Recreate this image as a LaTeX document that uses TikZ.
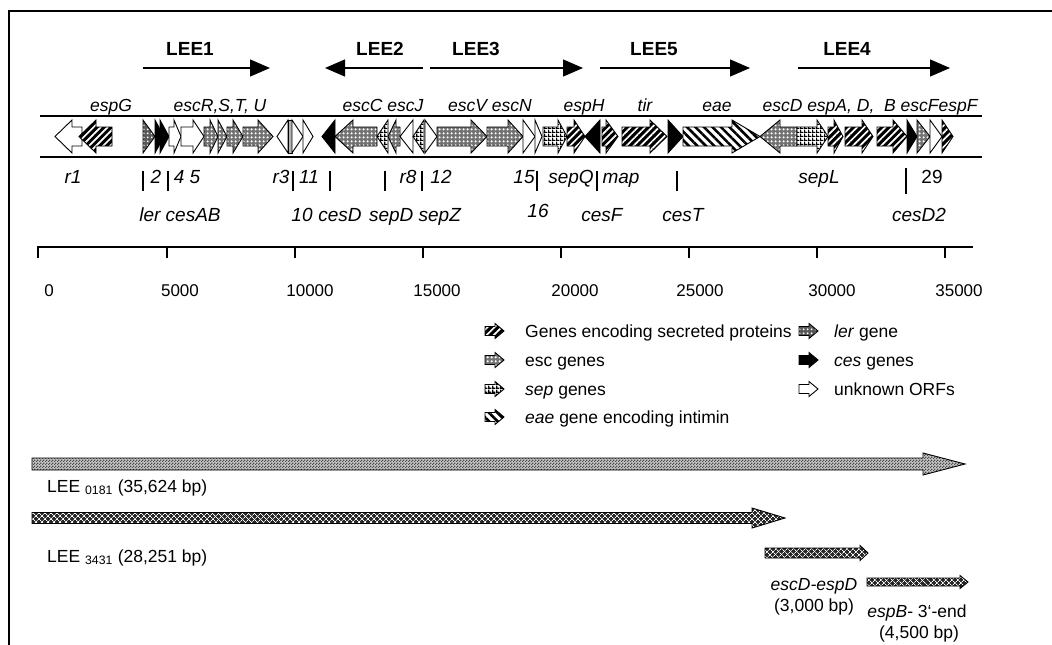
\documentclass[tikz,border=0pt]{standalone}
\usepackage{fontspec}
\setmainfont{Liberation Sans}
\usetikzlibrary{patterns,patterns.meta,arrows.meta}
\pgfdeclarepatternformonly{sepgrid}{\pgfpointorigin}{\pgfqpoint{4pt}{4pt}}{\pgfqpoint{4pt}{4pt}}{%
  \pgfpathrectangle{\pgfpointorigin}{\pgfqpoint{4pt}{1.5pt}}%
  \pgfpathrectangle{\pgfpointorigin}{\pgfqpoint{1.5pt}{4pt}}%
  \pgfusepath{fill}}
\pgfdeclarepatternformonly{checks}{\pgfpointorigin}{\pgfqpoint{3pt}{3pt}}{\pgfqpoint{3pt}{3pt}}{%
  \pgfpathrectangle{\pgfpointorigin}{\pgfqpoint{1.5pt}{1.5pt}}%
  \pgfpathrectangle{\pgfqpoint{1.5pt}{1.5pt}}{\pgfqpoint{1.5pt}{1.5pt}}%
  \pgfusepath{fill}}
% gene arrows on the track
\newcommand\gR[4]{\draw[#1] (#2,127) -- (#3,127) -- (#3,120) -- (#4,136.5) -- (#3,153) -- (#3,146) -- (#2,146) -- cycle;}
\newcommand\gL[4]{\draw[#1] (#2,136.5) -- (#3,120) -- (#3,127) -- (#4,127) -- (#4,146) -- (#3,146) -- (#3,153) -- cycle;}
\newcommand\tR[3]{\draw[#1] (#2,120) -- (#3,136.5) -- (#2,153) -- cycle;}
\newcommand\tL[3]{\draw[#1] (#3,120) -- (#2,136.5) -- (#3,153) -- cycle;}
% big arrow: style, x0, xhead, xtip, cy, half shaft, half head
\newcommand\bA[7]{\draw[#1] (#2,#5-#6) -- (#3,#5-#6) -- (#3,#5-#7) -- (#4,#5) -- (#3,#5+#7) -- (#3,#5+#6) -- (#2,#5+#6) -- cycle;}
% legend icon: style, x, cy
\newcommand\icon[3]{\draw[#1] (#2,#3-4.5) -- (#2+10,#3-4.5) -- (#2+10,#3-7.5) -- (#2+19,#3) -- (#2+10,#3+7.5) -- (#2+10,#3+4.5) -- (#2,#3+4.5) -- cycle;}
\begin{document}
\begin{tikzpicture}[x=1pt,y=-1pt,
  gene/.style={draw=black, line width=0.9pt, line join=miter},
  unk/.style={gene, fill=white},
  ces/.style={gene, fill=black},
  esc/.style={gene, preaction={fill=black!55}, pattern={Dots[distance=4pt,radius=1.4pt]}, pattern color=white},
  sec/.style={gene, preaction={fill=black}, pattern={Lines[angle=45,distance=5pt,line width=1.7pt]}, pattern color=white},
  eae/.style={gene, preaction={fill=white}, pattern={Lines[angle=-45,distance=6pt,line width=2.6pt]}, pattern color=black},
  sep/.style={gene, preaction={fill=white}, pattern=sepgrid, pattern color=black},
  ler/.style={gene, preaction={fill=black!65}, pattern={Dots[distance=4pt,radius=1.2pt]}, pattern color=white},
  bigA/.style={gene, preaction={fill=gray!45}, pattern=checks, pattern color=black!70},
  bigB/.style={gene, preaction={fill=black!85}, preaction={pattern={Lines[angle=45,distance=4pt,line width=0.8pt]}, pattern color=white}, pattern={Lines[angle=-45,distance=4pt,line width=0.8pt]}, pattern color=white},
  leelab/.style={font=\fontsize{19}{22}\selectfont\bfseries, anchor=base, inner sep=0pt},
  lee/.style={line width=1.3pt, -{Triangle[length=20pt,width=17pt]}},
  toplab/.style={font=\fontsize{17.5}{20}\selectfont\itshape, anchor=base, inner sep=0pt},
  botlab/.style={font=\fontsize{19}{22}\selectfont\itshape, anchor=base, inner sep=0pt},
  uplab/.style={font=\fontsize{19}{22}\selectfont, anchor=base, inner sep=0pt},
  scl/.style={font=\fontsize{17}{20}\selectfont, anchor=base, inner sep=0pt},
  leg/.style={font=\fontsize{17.5}{20}\selectfont, anchor=base west, inner sep=0pt},
  blab/.style={font=\fontsize{17.5}{20}\selectfont, anchor=base, inner sep=0pt},
  tick/.style={line width=1.2pt}
]
\useasboundingbox (0,0) rectangle (1052,645);
% frame
\draw[line width=2pt] (9,645) -- (9,11) -- (1052,11);

% LEE operons
\node[leelab] (lee1) at (190,55) {LEE1};
\node[leelab] (lee2) at (380,55) {LEE2};
\node[leelab] (lee3) at (476,55) {LEE3};
\node[leelab] (lee5) at (654,55) {LEE5};
\node[leelab] (lee4) at (847,55) {LEE4};
\coordinate (l1a) at (143,68); \coordinate (l1b) at (270,68);
\coordinate (l2a) at (423,68); \coordinate (l2b) at (325,68);
\coordinate (l3a) at (430,68); \coordinate (l3b) at (583,68);
\coordinate (l5a) at (600,68); \coordinate (l5b) at (750,68);
\coordinate (l4a) at (798,68); \coordinate (l4b) at (950,68);
\draw[lee] (l1a) -- (l1b);
\draw[lee] (l2a) -- (l2b);
\draw[lee] (l3a) -- (l3b);
\draw[lee] (l5a) -- (l5b);
\draw[lee] (l4a) -- (l4b);

% track
\draw[line width=1.4pt] (40,116) -- (982,116);
\draw[line width=1.4pt] (40,157) -- (982,157);

% genes
\gL{unk}{55}{72}{82}
\gL{sec}{79}{96}{112}
\tR{ler}{143}{155}
\tR{ces}{155}{164}
\tR{ces}{160}{169}
\gR{unk}{169}{174}{181}
\gR{unk}{181}{193}{204}
\gR{esc}{204}{210}{218}
\tR{esc}{218}{227}
\gR{esc}{227}{233}{243}
\gR{esc}{243}{258}{273}
\tL{unk}{277}{288}
\draw[gene, fill=gray!60] (288,120) rectangle (292,153);
\tR{unk}{292}{303}
\tR{unk}{303}{313}
\tL{ces}{322}{335}
\gL{esc}{335}{353}{377}
\tL{sep}{377}{388}
\gL{esc}{388}{396}{400}
\tL{unk}{400}{413}
\tL{sep}{413}{424}
\tR{unk}{425}{437}
\gR{esc}{437}{471}{487}
\gR{esc}{487}{508}{523}
\tR{unk}{523}{535}
\tR{unk}{535}{542}
\gR{sep}{543}{558}{567}
\gR{sec}{567}{574}{585}
\tL{ces}{585}{600}
\gR{sec}{602}{606}{618}
\gR{sec}{622}{650}{667}
\tR{ces}{668}{683}
\gR{eae}{683}{732}{760}
\gL{esc}{760}{780}{797}
\gR{sep}{797}{817}{828}
\gR{sec}{828}{834}{843}
\gR{sec}{845}{862}{873}
\gR{sec}{877}{893}{907}
\tR{ces}{907}{917}
\tR{esc}{917}{930}
\tR{unk}{930}{942}
\tR{sec}{942}{953}

% labels above track
\node[toplab] (nespG) at (111,111) {espG};
\node[toplab] (nescR) at (220,111) {escR,S,T, U};
\node[toplab] (nescC) at (383,111) {escC escJ};
\node[toplab] (nescV) at (490,111) {escV escN};
\node[toplab] (nespH) at (584,111) {espH};
\node[toplab] (ntir) at (645,111) {tir};
\node[toplab] (neae) at (717,111) {eae};
\node[toplab] (nescD) at (870,111) {escD espA, D,\ \ B escFespF};

% labels below track, row 1
\node[botlab] (nr1) at (73,183) {r1};
\node[botlab] (n2) at (156,183) {2};
\node[botlab] (n45) at (187,183) {4 5};
\node[botlab] (nr3) at (281,183) {r3};
\node[botlab] (n11) at (309,183) {11};
\node[botlab] (nr8) at (408,183) {r8};
\node[botlab] (n12) at (441,183) {12};
\node[botlab] (n15) at (524,183) {15};
\node[botlab] (nsepQ) at (571,183) {sepQ};
\node[botlab] (nmap) at (621,183) {map};
\node[botlab] (nsepL) at (819,183) {sepL};
\node[uplab] (n29) at (932,183) {29};
\foreach \x in {143,168,293,330,385,422,537,597,677}
  \draw[tick] (\x,171) -- (\x,191);
\draw[tick] (906,168) -- (906,194);

% row 2
\node[botlab] (nler) at (180,221) {ler cesAB};
\node[botlab] (n10) at (302,221) {10};
\node[botlab] (ncesD) at (340,221) {cesD};
\node[botlab] (nsepD) at (415,221) {sepD sepZ};
\node[botlab] (n16) at (538,217) {16};
\node[botlab] (ncesF) at (602,221) {cesF};
\node[botlab] (ncesT) at (683,221) {cesT};
\node[botlab] (ncesD2) at (919,221) {cesD2};

% scale
\draw[line width=1.3pt] (38,258) -- (38,247) -- (973,247);
\foreach \x in {167,295,423,561,689,817,945}
  \draw[tick] (\x,247) -- (\x,258);
\node[scl] (s0) at (49,296) {0};
\node[scl] (s5) at (180,296) {5000};
\node[scl] (s10) at (310,296) {10000};
\node[scl] (s15) at (437,296) {15000};
\node[scl] (s20) at (575,296) {20000};
\node[scl] (s25) at (700,296) {25000};
\node[scl] (s30) at (832,296) {30000};
\node[scl] (s35) at (959,296) {35000};

% legend
\icon{sec}{485}{331}
\icon{esc}{485}{360}
\icon{sep}{485}{389}
\icon{eae}{485}{417}
\icon{ler}{799}{331}
\icon{ces}{799}{360}
\icon{unk}{799}{389}
\node[leg] (g1) at (525,337) {Genes encoding secreted proteins};
\node[leg] (g2) at (525,366) {esc genes};
\node[leg] (g3) at (525,395) {\textit{sep} genes};
\node[leg] (g4) at (525,423) {\textit{eae} gene encoding intimin};
\node[leg] (g5) at (834,337) {\textit{ler} gene};
\node[leg] (g6) at (834,366) {\textit{ces} genes};
\node[leg] (g7) at (834,395) {unknown ORFs};

% sequenced fragments
\bA{bigA}{32}{923}{965}{464}{6}{11}
\bA{bigB}{32}{752}{785}{518}{5.5}{10}
\bA{bigB}{765}{860}{868}{553}{5}{7.5}
\bA{bigB}{867}{960}{968}{582}{4}{6.5}
\node[leg] (f1) at (47,492) {LEE \textsubscript{0181} (35,624 bp)};
\node[leg] (f2) at (47,562) {LEE \textsubscript{3431} (28,251 bp)};
\node[blab] (f3) at (814,590) {\textit{escD-espD}};
\node[blab] (f3b) at (814,611) {(3,000 bp)};
\node[blab] (f4) at (917,617) {\textit{espB}- 3‘-end};
\node[blab] (f4b) at (919,638) {(4,500 bp)};
\end{tikzpicture}
\end{document}
